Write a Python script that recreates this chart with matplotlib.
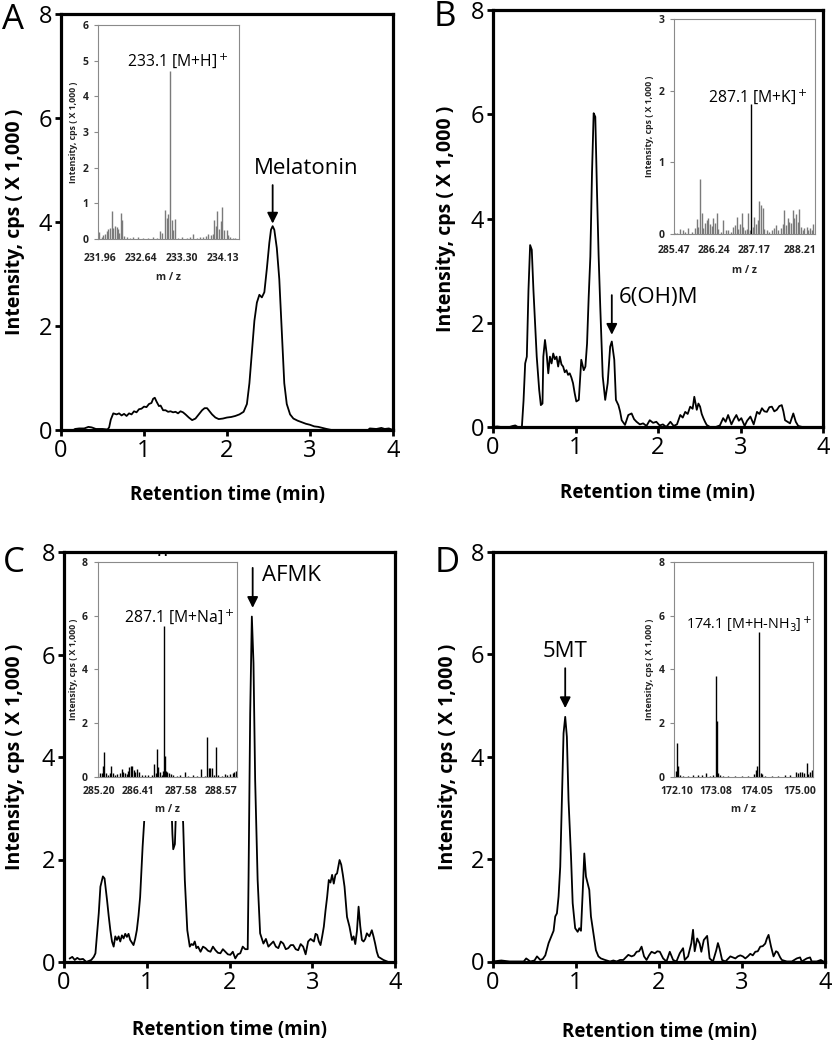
import matplotlib
matplotlib.use('Agg')
import matplotlib.pyplot as plt
from matplotlib.patches import Rectangle

plt.rcParams['font.family'] = ['Open Sans', 'DejaVu Sans']

# ---------------- data: chromatograms (retention time, intensity x1000 cps) ----------------
time_A = [0.0, 0.15, 0.17, 0.22, 0.28, 0.33, 0.37, 0.42, 0.5, 0.56, 0.58, 0.6, 0.63, 0.67, 0.7, 0.73,
          0.76, 0.79, 0.82, 0.85, 0.88, 0.91, 0.94, 0.97, 1.0, 1.03, 1.06, 1.09, 1.11, 1.13, 1.15, 1.18,
          1.2, 1.23, 1.26, 1.29, 1.32, 1.35, 1.38, 1.41, 1.44, 1.47, 1.5, 1.54, 1.58, 1.62, 1.66, 1.7,
          1.73, 1.76, 1.79, 1.82, 1.86, 1.9, 1.95, 2.0, 2.05, 2.1, 2.15, 2.2, 2.24, 2.27, 2.3, 2.33,
          2.36, 2.39, 2.42, 2.45, 2.48, 2.51, 2.53, 2.55, 2.57, 2.6, 2.63, 2.66, 2.69, 2.72, 2.76, 2.8,
          2.85, 2.9, 2.95, 3.0, 3.05, 3.1, 3.15, 3.2, 3.26, 3.7, 3.72, 3.8, 3.86, 3.9, 3.95, 4.0]
int_A = [0.0, 0.0, 0.02, 0.03, 0.03, 0.06, 0.05, 0.02, 0.02, 0.01, 0.05, 0.2, 0.32, 0.3, 0.32, 0.28,
         0.31, 0.27, 0.32, 0.3, 0.36, 0.34, 0.4, 0.41, 0.45, 0.44, 0.5, 0.52, 0.6, 0.62, 0.55, 0.46,
         0.47, 0.38, 0.38, 0.35, 0.36, 0.34, 0.35, 0.32, 0.36, 0.34, 0.3, 0.24, 0.19, 0.22, 0.3, 0.38,
         0.42, 0.42, 0.36, 0.3, 0.24, 0.21, 0.22, 0.24, 0.25, 0.27, 0.3, 0.35, 0.5, 0.9, 1.5, 2.1,
         2.45, 2.6, 2.55, 2.65, 3.1, 3.6, 3.85, 3.92, 3.85, 3.5, 2.9, 1.9, 0.9, 0.5, 0.3, 0.22,
         0.18, 0.15, 0.12, 0.1, 0.07, 0.06, 0.04, 0.02, 0.0, 0.0, 0.03, 0.02, 0.04, 0.02, 0.03, 0.0]

time_B = [0.0, 0.05, 0.1, 0.2, 0.24, 0.27, 0.3, 0.35, 0.37, 0.39, 0.41, 0.43, 0.45, 0.47, 0.49, 0.51,
          0.53, 0.56, 0.58, 0.6, 0.61, 0.63, 0.65, 0.67, 0.69, 0.71, 0.73, 0.75, 0.77, 0.79, 0.81, 0.83,
          0.85, 0.87, 0.89, 0.91, 0.93, 0.95, 0.97, 0.99, 1.01, 1.04, 1.07, 1.1, 1.12, 1.14, 1.16, 1.18,
          1.2, 1.22, 1.24, 1.26, 1.28, 1.3, 1.33, 1.36, 1.39, 1.42, 1.44, 1.47, 1.49, 1.52, 1.54, 1.56,
          1.6, 1.64, 1.68, 1.71, 1.74, 1.78, 1.82, 1.86, 1.9, 1.94, 1.98, 2.02, 2.06, 2.1, 2.15, 2.19,
          2.23, 2.27, 2.3, 2.33, 2.36, 2.39, 2.42, 2.44, 2.47, 2.49, 2.51, 2.53, 2.55, 2.57, 2.59, 2.63,
          2.7, 2.75, 2.79, 2.82, 2.85, 2.89, 2.92, 2.95, 2.98, 3.01, 3.05, 3.08, 3.12, 3.16, 3.2, 3.23,
          3.26, 3.29, 3.32, 3.35, 3.38, 3.41, 3.44, 3.47, 3.5, 3.52, 3.54, 3.57, 3.6, 3.64, 3.67, 3.7, 3.75]
int_B = [0.0, 0.01, 0.0, 0.0, 0.02, 0.03, 0.0, 0.0, 0.5, 1.22, 1.35, 2.63, 3.49, 3.4, 2.63, 2.0,
         1.35, 0.71, 0.42, 0.45, 1.35, 1.67, 1.41, 1.03, 1.35, 1.22, 1.41, 1.3, 1.35, 1.16, 1.35, 1.2,
         1.16, 1.05, 1.09, 1.0, 1.03, 0.95, 0.84, 0.65, 0.49, 0.52, 1.29, 1.09, 1.16, 1.6, 2.5, 3.27,
         4.87, 6.02, 5.95, 4.55, 3.3, 2.31, 0.97, 0.52, 0.84, 1.54, 1.64, 1.29, 0.52, 0.42, 0.3, 0.13,
         0.04, 0.23, 0.26, 0.15, 0.1, 0.05, 0.07, 0.02, 0.13, 0.08, 0.1, 0.03, 0.05, 0.0, 0.1, 0.02,
         0.05, 0.23, 0.18, 0.29, 0.25, 0.39, 0.35, 0.58, 0.33, 0.45, 0.39, 0.25, 0.17, 0.1, 0.04, 0.0,
         0.0, 0.03, 0.17, 0.1, 0.23, 0.05, 0.15, 0.23, 0.12, 0.17, 0.02, 0.12, 0.2, 0.05, 0.29, 0.25,
         0.36, 0.3, 0.29, 0.38, 0.39, 0.3, 0.33, 0.4, 0.42, 0.3, 0.13, 0.1, 0.07, 0.26, 0.1, 0.02, 0.0]

time_C = [0.07, 0.1, 0.13, 0.16, 0.19, 0.23, 0.27, 0.3, 0.33, 0.36, 0.38, 0.42, 0.44, 0.47, 0.49, 0.52,
          0.54, 0.56, 0.58, 0.6, 0.62, 0.64, 0.66, 0.68, 0.7, 0.72, 0.74, 0.76, 0.78, 0.8, 0.82, 0.84,
          0.86, 0.88, 0.9, 0.92, 0.95, 0.97, 0.99, 1.05, 1.12, 1.18, 1.2, 1.22, 1.27, 1.3, 1.31, 1.32,
          1.34, 1.35, 1.37, 1.4, 1.43, 1.44, 1.46, 1.49, 1.52, 1.54, 1.56, 1.58, 1.6, 1.62, 1.65, 1.68,
          1.71, 1.74, 1.77, 1.8, 1.83, 1.86, 1.89, 1.92, 1.95, 1.98, 2.01, 2.04, 2.07, 2.1, 2.13, 2.16,
          2.19, 2.22, 2.23, 2.25, 2.27, 2.29, 2.31, 2.34, 2.37, 2.41, 2.44, 2.47, 2.5, 2.53, 2.56, 2.59,
          2.62, 2.65, 2.68, 2.71, 2.74, 2.77, 2.8, 2.83, 2.86, 2.89, 2.92, 2.95, 2.98, 3.02, 3.04, 3.06,
          3.08, 3.1, 3.12, 3.14, 3.16, 3.18, 3.2, 3.22, 3.24, 3.26, 3.28, 3.3, 3.33, 3.35, 3.37, 3.39,
          3.42, 3.45, 3.48, 3.5, 3.52, 3.54, 3.56, 3.58, 3.6, 3.62, 3.64, 3.66, 3.69, 3.72, 3.74, 3.76,
          3.78, 3.8, 3.86, 3.92, 3.95]
int_C = [0.07, 0.1, 0.04, 0.08, 0.05, 0.06, 0.0, 0.02, 0.04, 0.1, 0.17, 0.95, 1.47, 1.67, 1.63, 1.21,
         0.9, 0.62, 0.4, 0.3, 0.5, 0.43, 0.5, 0.4, 0.52, 0.46, 0.55, 0.49, 0.55, 0.43, 0.38, 0.33,
         0.45, 0.62, 0.9, 1.27, 2.25, 2.77, 3.6, 5.2, 7.2, 8.6, 9.0, 8.6, 5.2, 3.0, 2.5, 2.2,
         2.3, 2.8, 3.4, 3.3, 3.0, 2.7, 1.6, 0.62, 0.3, 0.35, 0.33, 0.4, 0.27, 0.3, 0.2, 0.3,
         0.27, 0.22, 0.2, 0.3, 0.23, 0.18, 0.17, 0.25, 0.2, 0.15, 0.14, 0.2, 0.07, 0.15, 0.17, 0.3,
         0.25, 0.25, 1.6, 4.85, 6.74, 5.83, 3.55, 1.6, 0.56, 0.36, 0.45, 0.3, 0.35, 0.4, 0.3, 0.27,
         0.4, 0.36, 0.25, 0.27, 0.33, 0.33, 0.25, 0.23, 0.35, 0.3, 0.15, 0.4, 0.45, 0.4, 0.55, 0.53,
         0.4, 0.33, 0.5, 0.69, 1.0, 1.27, 1.6, 1.55, 1.7, 1.53, 1.7, 1.73, 1.99, 1.9, 1.7, 1.47,
         0.88, 0.69, 0.43, 0.5, 0.35, 0.6, 1.08, 0.7, 0.43, 0.4, 0.45, 0.56, 0.5, 0.62, 0.5, 0.36,
         0.2, 0.1, 0.04, 0.0, 0.0]

time_D = [0.0, 0.1, 0.2, 0.3, 0.37, 0.4, 0.45, 0.5, 0.53, 0.57, 0.6, 0.63, 0.67, 0.71, 0.73, 0.75,
          0.77, 0.79, 0.81, 0.83, 0.85, 0.87, 0.89, 0.91, 0.94, 0.96, 0.99, 1.02, 1.04, 1.06, 1.08, 1.1,
          1.12, 1.14, 1.16, 1.18, 1.21, 1.24, 1.27, 1.3, 1.35, 1.41, 1.45, 1.49, 1.53, 1.57, 1.6, 1.63,
          1.67, 1.7, 1.73, 1.76, 1.79, 1.82, 1.85, 1.88, 1.91, 1.95, 1.98, 2.01, 2.05, 2.09, 2.13, 2.17,
          2.21, 2.25, 2.29, 2.31, 2.35, 2.39, 2.41, 2.43, 2.46, 2.49, 2.51, 2.54, 2.58, 2.61, 2.65, 2.69,
          2.71, 2.73, 2.76, 2.8, 2.83, 2.86, 2.89, 2.92, 2.95, 2.98, 3.01, 3.04, 3.07, 3.1, 3.13, 3.16,
          3.19, 3.22, 3.25, 3.28, 3.3, 3.32, 3.35, 3.38, 3.41, 3.43, 3.46, 3.48, 3.54, 3.6, 3.66, 3.7,
          3.72, 3.78, 3.82, 3.84, 3.9, 3.95, 3.98]
int_D = [0.0, 0.02, 0.0, 0.0, 0.0, 0.06, 0.0, 0.02, 0.1, 0.03, 0.05, 0.12, 0.36, 0.52, 0.6, 0.88,
         0.94, 1.27, 1.85, 3.15, 4.46, 4.78, 4.39, 3.15, 2.05, 1.14, 0.65, 0.58, 0.65, 0.6, 1.33, 2.11,
         1.66, 1.53, 1.4, 0.88, 0.55, 0.22, 0.1, 0.06, 0.03, 0.0, 0.02, 0.0, 0.03, 0.03, 0.08, 0.13,
         0.1, 0.12, 0.19, 0.2, 0.29, 0.1, 0.03, 0.12, 0.19, 0.16, 0.2, 0.19, 0.06, 0.0, 0.19, 0.03,
         0.0, 0.16, 0.26, 0.03, 0.1, 0.36, 0.62, 0.2, 0.45, 0.35, 0.19, 0.42, 0.5, 0.06, 0.0, 0.22,
         0.36, 0.25, 0.03, 0.0, 0.05, 0.1, 0.08, 0.06, 0.1, 0.12, 0.1, 0.06, 0.1, 0.15, 0.12, 0.19,
         0.2, 0.29, 0.3, 0.35, 0.45, 0.52, 0.29, 0.1, 0.2, 0.18, 0.08, 0.03, 0.0, 0.0, 0.06, 0.08,
         0.0, 0.06, 0.08, 0.0, 0.0, 0.03, 0.0]

# ---------------- data: inset mass spectra (category bin, intensity x1000 cps) ----------------
bins_A = [1, 4, 5, 7, 9, 10, 12, 14, 15, 17, 19, 20, 21, 23, 24, 26, 29, 32, 35, 40, 45, 50, 55, 59,
          62, 64, 67, 69, 70, 72, 74, 75, 77, 80, 84, 89, 92, 95, 99, 102, 105, 108, 110, 113, 115,
          116, 118, 119, 121, 123, 124, 126, 129, 130, 132, 135, 137]
ms_A = [0.19, 0.07, 0.11, 0.14, 0.23, 0.28, 0.30, 0.78, 0.31, 0.36, 0.33, 0.28, 0.17, 0.73, 0.54,
        0.09, 0.06, 0.04, 0.06, 0.06, 0.04, 0.03, 0.05, 0.04, 0.23, 0.17, 0.82, 0.59, 0.70, 4.71,
        0.54, 0.26, 0.57, 0.04, 0.06, 0.04, 0.05, 0.14, 0.04, 0.07, 0.06, 0.09, 0.14, 0.11, 0.15,
        0.52, 0.36, 0.78, 0.28, 0.5, 0.9, 0.26, 0.26, 0.12, 0.06, 0.04, 0.03]
ticks_A = [2, 43, 84, 125]
mz_A = ['231.96', '232.64', '233.30', '234.13']

bins_B = [1, 3, 6, 9, 11, 14, 18, 21, 23, 24, 26, 28, 29, 31, 33, 34, 36, 38, 39, 41, 43, 44, 47, 49,
          52, 54, 57, 59, 61, 63, 64, 66, 68, 69, 71, 73, 74, 76, 77, 79, 80, 82, 84, 85, 87, 89, 90,
          93, 95, 98, 100, 102, 104, 107, 109, 110, 112, 114, 115, 117, 119, 120, 122, 124, 125, 127,
          129, 130, 133, 134, 136, 138, 139]
ms_B = [0.01, 0.02, 0.07, 0.05, 0.03, 0.09, 0.03, 0.08, 0.21, 0.10, 0.77, 0.29, 0.08, 0.15, 0.20,
        0.22, 0.14, 0.11, 0.23, 0.15, 0.30, 0.07, 0.03, 0.19, 0.05, 0.06, 0.03, 0.10, 0.12, 0.24,
        0.07, 0.14, 0.29, 0.10, 0.06, 0.07, 0.29, 0.06, 1.82, 0.10, 0.24, 0.14, 0.20, 0.46, 0.40,
        0.36, 0.07, 0.06, 0.03, 0.06, 0.08, 0.12, 0.06, 0.09, 0.14, 0.34, 0.13, 0.22, 0.17, 0.16,
        0.33, 0.22, 0.28, 0.17, 0.35, 0.10, 0.06, 0.08, 0.10, 0.06, 0.09, 0.05, 0.14]
ticks_B = [0, 40, 80, 126]
mz_B = ['285.47', '286.24', '287.17', '288.21']

bins_C = [2, 4, 5, 6, 8, 10, 12, 13, 15, 17, 19, 22, 24, 25, 27, 29, 30, 31, 33, 34, 36, 37, 39, 41,
          44, 47, 50, 54, 56, 58, 59, 60, 62, 64, 65, 66, 67, 68, 69, 71, 73, 75, 79, 82, 87, 90, 95,
          99, 103, 107, 109, 111, 112, 114, 116, 118, 120, 124, 127, 129, 132, 135, 136, 138]
ms_C = [0.12, 0.12, 0.41, 0.93, 0.12, 0.06, 0.12, 0.39, 0.12, 0.06, 0.09, 0.12, 0.29, 0.19, 0.12,
        0.09, 0.21, 0.37, 0.41, 0.41, 0.25, 0.19, 0.29, 0.16, 0.06, 0.06, 0.06, 0.06, 0.46, 0.12,
        1.02, 0.37, 0.19, 0.06, 0.21, 5.63, 0.77, 0.21, 0.19, 0.12, 0.09, 0.06, 0.04, 0.06, 0.19,
        0.04, 0.06, 0.04, 0.27, 0.04, 1.49, 0.31, 0.31, 0.31, 0.06, 1.09, 0.06, 0.04, 0.09, 0.06,
        0.09, 0.12, 0.16, 0.21]
ticks_C = [1, 41, 84, 124]
mz_C = ['285.20', '286.41', '287.58', '288.57']

bins_D = [2, 3, 4, 6, 9, 14, 19, 24, 28, 32, 36, 39, 42, 43, 44, 46, 49, 54, 61, 68, 74, 80, 82, 83,
          85, 87, 88, 91, 98, 104, 111, 116, 122, 124, 126, 128, 130, 133, 134, 136, 138]
ms_D = [0.21, 1.24, 0.40, 0.06, 0.04, 0.04, 0.05, 0.06, 0.06, 0.12, 0.04, 0.05, 3.76, 2.08, 0.12,
        0.06, 0.04, 0.04, 0.04, 0.04, 0.04, 0.10, 0.25, 0.39, 5.41, 0.12, 0.09, 0.04, 0.04, 0.04,
        0.06, 0.06, 0.19, 0.12, 0.16, 0.19, 0.12, 0.5, 0.09, 0.16, 0.25]
ticks_D = [3, 42, 83, 126]
mz_D = ['172.10', '173.08', '174.05', '175.00']

# ---------------- layout helpers ----------------
W, H = 832, 1050
fig = plt.figure(figsize=(W / 100, H / 100), dpi=100)


def fbox(l, t, r, b):
    return [l / W, 1 - b / H, (r - l) / W, (b - t) / H]


def main_axes(box, t, y, ylab_x, xlab_y):
    ax = fig.add_axes(fbox(*box))
    ax.plot(t, y, color='black', lw=1.3, zorder=2)
    ax.set_xlim(0, 4)
    ax.set_ylim(0, 8)
    ax.set_xticks([0, 1, 2, 3, 4])
    ax.set_yticks([0, 2, 4, 6, 8])
    for s in ax.spines.values():
        s.set_linewidth(2.3)
        s.set_zorder(3)
    ax.tick_params(direction='out', length=4.5, width=2, labelsize=17, pad=2)
    ax.set_ylabel('Intensity, cps ( X 1,000 )', fontsize=14, fontweight='bold', va='center')
    ax.yaxis.set_label_coords(ylab_x, 0.5)
    ax.set_xlabel('Retention time (min)', fontsize=13.5, fontweight='bold', va='center')
    ax.xaxis.set_label_coords(0.5, xlab_y)
    return ax


def inset_axes(main, box, bg, bins, ms, ymax, ystep, ticks, labels, colors,
               ann, ann_x, ann_y, ann_size, tick_pad, mz_y):
    # white chart area behind the inset hides the chromatogram beneath it
    l, t, r, b = bg
    main.add_patch(Rectangle((l / W, 1 - b / H), (r - l) / W, (b - t) / H,
                             transform=fig.transFigure, facecolor='white',
                             edgecolor='none', zorder=2.5))
    ax = fig.add_axes(fbox(*box))
    ax.set_facecolor('white')
    ax.vlines(bins, 0, ms, colors=colors, lw=1.0)
    ax.set_xlim(0, box[2] - box[0])
    ax.set_ylim(0, ymax)
    ax.set_yticks(list(range(0, ymax + 1, ystep)))
    ax.set_xticks(ticks)
    ax.set_xticklabels(labels)
    for s in ax.spines.values():
        s.set_linewidth(0.8)
        s.set_color('#8a8a8a')
    ax.tick_params(axis='x', length=0, pad=tick_pad, labelsize=7.5)
    ax.tick_params(axis='y', direction='out', length=3, width=0.8, color='#8a8a8a',
                   pad=4, labelsize=7.5)
    for lab in ax.get_xticklabels() + ax.get_yticklabels():
        lab.set_fontweight('bold')
        lab.set_color('#222222')
    ax.set_ylabel('Intensity, cps ( X 1,000 )', fontsize=6.3, fontweight='bold',
                  va='center', color='#222222')
    ax.yaxis.set_label_coords(-0.175, 0.5)
    ax.set_xlabel('m / z', fontsize=7.5, fontweight='bold', va='center', color='#222222')
    ax.xaxis.set_label_coords(0.5, mz_y)
    ax.text(ann_x, ann_y, ann, fontsize=ann_size, va='center', ha='left')
    return ax


def arrow(ax, x, y_tail, y_tip):
    ax.annotate('', xy=(x, y_tip), xytext=(x, y_tail),
                arrowprops=dict(arrowstyle='-|>', color='black', lw=1.3,
                                mutation_scale=16, shrinkA=0, shrinkB=0), zorder=4)


GRAY = '#7a7a7a'

# ---------------- Panel A ----------------
axA = main_axes((61, 14, 393, 430), time_A, int_A, -0.139, -0.156)
inset_axes(axA, (98, 25, 239, 239), (68, 18, 246, 288), bins_A, ms_A, 6, 1, ticks_A, mz_A,
           GRAY, '233.1 [M+H]$^+$', 28.7, 4.99, 11.3, 10, -0.178)
arrow(axA, 2.55, 4.71, 3.97)
axA.text(2.96, 5.02, 'Melatonin', fontsize=16, ha='center', va='center')

# ---------------- Panel B ----------------
axB = main_axes((493, 10, 823, 427), time_B, int_B, -0.142, -0.158)
colB = ['black' if h == max(ms_B) else GRAY for h in ms_B]
inset_axes(axB, (674, 19, 815, 234), (640, 13, 821, 282), bins_B, ms_B, 3, 1, ticks_B, mz_B,
           colB, '287.1 [M+K]$^+$', 34, 1.92, 11.3, 8, -0.171)
arrow(axB, 1.44, 2.53, 1.77)
axB.text(1.52, 2.48, '6(OH)M', fontsize=16, ha='left', va='center')

# ---------------- Panel C ----------------
axC = main_axes((64, 552, 395, 962), time_C, int_C, -0.148, -0.166)
inset_axes(axC, (97.5, 562, 237, 776.7), (68, 556, 246, 821), bins_C, ms_C, 8, 2, ticks_C, mz_C,
           'black', '287.1 [M+Na]$^+$', 27, 5.97, 11.3, 6.5, -0.155)
arrow(axC, 2.28, 7.69, 6.91)
axC.text(2.39, 7.55, 'AFMK', fontsize=16, ha='left', va='center')

# ---------------- Panel D ----------------
axD = main_axes((493, 552, 825, 961.5), time_D, int_D, -0.136, -0.171)
inset_axes(axD, (674, 562, 813, 776.7), (640, 556, 821, 822), bins_D, ms_D, 8, 2, ticks_D, mz_D,
           'black', '174.1 [M+H-NH$_3$]$^+$', 12.0, 5.66, 10.4, 6.5, -0.155)
arrow(axD, 0.87, 5.73, 4.95)
axD.text(0.87, 6.05, '5MT', fontsize=16, ha='center', va='center')

# ---------------- panel letters ----------------
for letter, (px, py) in zip(['A', 'B', 'C', 'D'], [(13, 20), (445, 17), (14, 563), (447, 563)]):
    fig.text(px / W, 1 - py / H, letter, fontsize=25, ha='center', va='center')

fig.savefig('out.png', dpi=100)
